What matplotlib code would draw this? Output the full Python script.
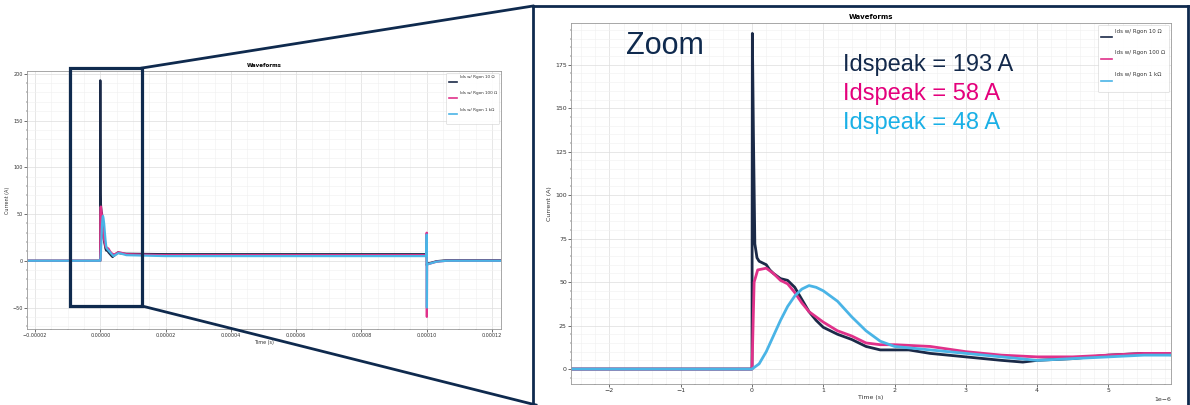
import numpy as np
import matplotlib
matplotlib.use('Agg')
import matplotlib.pyplot as plt
from matplotlib.lines import Line2D
from matplotlib.patches import Rectangle

W, H = 1190, 405

# waveform data, time in microseconds, current in A
t_10 = [-23, -2.5, -0.01, 0.0, 0.005, 0.02, 0.04, 0.07, 0.1, 0.15, 0.2, 0.25, 0.3, 0.4, 0.5,
        0.6, 0.7, 0.8, 0.9, 1.0, 1.2, 1.4, 1.6, 1.8, 2.0, 2.2, 2.5, 3.0, 3.5, 3.8, 4.0, 4.5,
        5.0, 5.5, 6.0, 8.0, 20, 60, 99.9, 100.0, 100.05, 100.1, 101, 103, 106, 124]
i_10 = [0, 0, 0, 0, 193, 135, 72, 64, 62, 61, 60, 57, 55, 52, 51,
        47, 40, 33, 28, 24, 20, 17, 13, 11, 11, 11, 9, 7, 5, 4, 5, 6,
        8, 9, 8, 7.5, 7, 7, 7, 8, -5, -3, -2.5, -0.5, 0.5, 0.5]

t_100 = [-23, -2.5, -0.01, 0.0, 0.03, 0.08, 0.2, 0.3, 0.4, 0.5, 0.6, 0.7, 0.8, 0.9, 1.0,
         1.2, 1.4, 1.6, 1.8, 2.0, 2.5, 3.0, 3.5, 4.0, 4.5, 5.0, 5.5, 6.0, 8.0, 20, 60,
         99.9, 100.0, 100.05, 100.1, 101, 103, 106, 124]
i_100 = [0, 0, 0, 0, 50, 57, 58, 55, 51, 49, 44, 38, 33, 30, 27,
         22, 19, 15, 14, 14, 13, 10, 8, 7, 7, 8, 9, 9, 7, 6, 6,
         6, 30, -60, -4, -3, -1, 0, 0]

t_1k = [-23, -2.5, -0.01, 0.0, 0.1, 0.2, 0.3, 0.4, 0.5, 0.6, 0.7, 0.8, 0.9, 1.0, 1.2,
        1.4, 1.6, 1.8, 2.0, 2.5, 3.0, 3.5, 4.0, 4.5, 5.0, 5.5, 6.0, 8.0, 20, 60,
        99.9, 100.0, 100.05, 100.1, 101, 103, 106, 124]
i_1k = [0, 0, 0, 0, 3, 10, 19, 28, 36, 42, 46, 48, 47, 45, 39,
        30, 22, 16, 13, 11, 9, 7, 5, 6, 7, 8, 8, 6, 5, 5,
        5, 28, -50, -4, -3, -1, 0, 0]

labels = ['Ids w/ Rgon 10 Ω', 'Ids w/ Rgon 100 Ω', 'Ids w/ Rgon 1 kΩ']
colors = ['#1b2a48', '#e0318a', '#4ab4e6']
peaks = ['Idspeak = 193 A', 'Idspeak = 58 A', 'Idspeak = 48 A']
peak_colors = ['#13294b', '#e4007c', '#1ab0e6']
navy = '#0f2a4e'

series = [(t_10, i_10), (t_100, i_100), (t_1k, i_1k)]


def ax_rect(x0, y0, x1, y1):
    return [x0 / W, 1 - y1 / H, (x1 - x0) / W, (y1 - y0) / H]


def px(x, y):
    return x / W, 1 - y / H


def draw_chart(ax, fs, lw, lfs, lsp):
    for (t, i), c, lab in zip(series, colors, labels):
        # extra blank lines push the handle below the text, like the original legend
        ax.plot(np.array(t) * 1e-6, i, color=c, lw=lw, label=lab + '\n \n ')
    ax.set_title('Waveforms', fontsize=fs + 0.5, fontweight='bold', pad=3)
    ax.set_xlabel('Time (s)', fontsize=fs, labelpad=1, color='#333333')
    ax.set_ylabel('Current (A)', fontsize=fs, labelpad=2, color='#333333')
    ax.tick_params(labelsize=fs, length=2, width=0.4, pad=1, labelcolor='#333333')
    ax.tick_params(which='minor', length=1, width=0.3)
    ax.minorticks_on()
    ax.grid(which='major', color='#dddddd', lw=0.5)
    ax.grid(which='minor', color='#f0f0f0', lw=0.4)
    for s in ax.spines.values():
        s.set_color('#999999')
        s.set_linewidth(0.6)
    ax.xaxis.get_offset_text().set_fontsize(fs)
    leg = ax.legend(loc='upper right', fontsize=lfs, labelspacing=lsp, handlelength=2.0,
                    handletextpad=0.6, borderpad=0.6, borderaxespad=0.4, framealpha=0.9)
    leg.get_frame().set_linewidth(0.4)
    for h in leg.get_lines():
        h.set_linewidth(1.2)
    for tx in leg.get_texts():
        tx.set_color('#333333')


fig = plt.figure(figsize=(W / 100, H / 100), dpi=100)
fig.patch.set_facecolor('white')

# overview chart
ax1 = fig.add_axes(ax_rect(27, 71, 501, 329))
draw_chart(ax1, 3.5, 1.6, 3.0, 0.75)
ax1.set_xlim(-2.245e-5, 1.2276e-4)
ax1.set_ylim(-73, 203)

# zoomed chart
ax2 = fig.add_axes(ax_rect(571, 23, 1171, 384))
draw_chart(ax2, 4.5, 2.0, 4.0, 0.95)
ax2.set_xlim(-2.54e-6, 5.88e-6)
ax2.set_ylim(-8.6, 199)

# zoom frame on the overview chart
x0, y0 = px(70, 306)
x1, y1 = px(142, 68)
fig.add_artist(Rectangle((x0, y0), x1 - x0, y1 - y0, transform=fig.transFigure,
                         fill=False, edgecolor=navy, lw=2.3, zorder=10))

# panel border around zoomed chart
for a, b in [((533, 410), (533, 6)), ((533, 6), (1188, 6)), ((1188, 6), (1188, 410))]:
    fig.add_artist(Line2D([px(*a)[0], px(*b)[0]], [px(*a)[1], px(*b)[1]],
                          transform=fig.transFigure, color=navy, lw=2.0, zorder=10))

# connector lines
for a, b in [((142, 68), (533, 6)), ((142, 306), (536, 405))]:
    fig.add_artist(Line2D([px(*a)[0], px(*b)[0]], [px(*a)[1], px(*b)[1]],
                          transform=fig.transFigure, color=navy, lw=2.0, zorder=10))

fig.text(*px(626, 46), 'Zoom', fontsize=22, color=navy, family='Liberation Sans',
         va='center', ha='left')
for k, (txt, c) in enumerate(zip(peaks, peak_colors)):
    fig.text(*px(843, 65 + 29 * k), txt, fontsize=17, color=c, family='Liberation Sans',
             va='center', ha='left')

fig.savefig('out.png', dpi=100, facecolor='white')
